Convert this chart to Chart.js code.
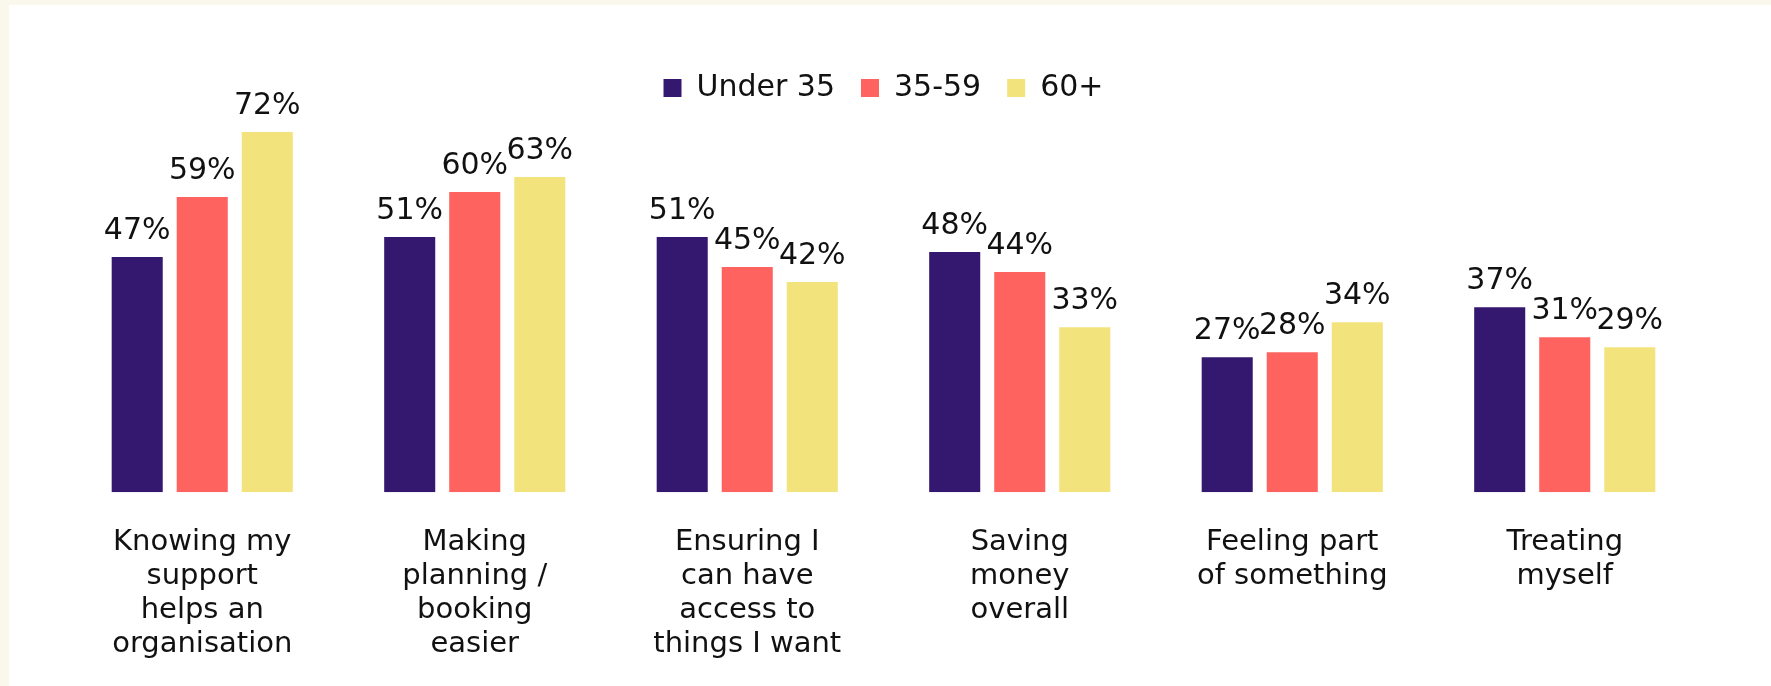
<!DOCTYPE html>
<html>
<head>
<meta charset="utf-8">
<script src="https://cdn.jsdelivr.net/npm/chart.js@4/dist/chart.umd.min.js"></script>
<style>
  html, body { margin: 0; padding: 0; background: #faf8ec; }
  #panel { position: absolute; left: 9px; top: 5px; width: 1762px; height: 681px; background: #fff; }
</style>
</head>
<body>
<div id="panel"><canvas id="chart" width="1762" height="681"></canvas></div>
<script>
// reasons, values in % per age group
const categories = [
  ['Knowing my', 'support', 'helps an', 'organisation'],
  ['Making', 'planning /', 'booking', 'easier'],
  ['Ensuring I', 'can have', 'access to', 'things I want'],
  ['Saving', 'money', 'overall'],
  ['Feeling part', 'of something'],
  ['Treating', 'myself']
];
const under35 = [47, 51, 51, 48, 27, 37];
const mid35to59 = [59, 60, 45, 44, 28, 31];
const over60 = [72, 63, 42, 33, 34, 29];
const seriesNames = ['Under 35', '35-59', '60+'];
const colours = ['#341870', '#ff6360', '#f2e37d'];

const FONT = 'DejaVu Sans';

// draw the % above each bar
const valueLabels = {
  id: 'valueLabels',
  afterDatasetsDraw(chart) {
    const ctx = chart.ctx;
    ctx.save();
    ctx.font = '30px "' + FONT + '"';
    ctx.fillStyle = '#111';
    ctx.textAlign = 'center';
    ctx.textBaseline = 'alphabetic';
    chart.data.datasets.forEach((ds, i) => {
      chart.getDatasetMeta(i).data.forEach((bar, j) => {
        ctx.fillText(ds.data[j] + '%', bar.x, bar.y - 18);
      });
    });
    ctx.restore();
  }
};

new Chart(document.getElementById('chart'), {
  type: 'bar',
  data: {
    labels: categories,
    datasets: [
      { label: seriesNames[0], data: under35, backgroundColor: colours[0] },
      { label: seriesNames[1], data: mid35to59, backgroundColor: colours[1] },
      { label: seriesNames[2], data: over60, backgroundColor: colours[2] }
    ]
  },
  options: {
    responsive: false,
    animation: false,
    categoryPercentage: 0.716,
    barPercentage: 0.785,
    layout: { padding: { left: 57, right: 70, top: 42, bottom: 0 } },
    plugins: {
      tooltip: { enabled: false },
      legend: {
        position: 'top',
        labels: {
          font: { family: FONT, size: 30 },
          color: '#111',
          boxWidth: 18,
          boxHeight: 18,
          padding: 26
        }
      }
    },
    scales: {
      x: {
        grid: { display: false },
        border: { display: false },
        ticks: {
          font: { family: FONT, size: 29, lineHeight: 1.17 },
          color: '#111',
          padding: 25,
          maxRotation: 0,
          autoSkip: false
        }
      },
      y: {
        display: false,
        min: 0,
        max: 75.8
      }
    }
  },
  plugins: [valueLabels]
});
</script>
</body>
</html>
